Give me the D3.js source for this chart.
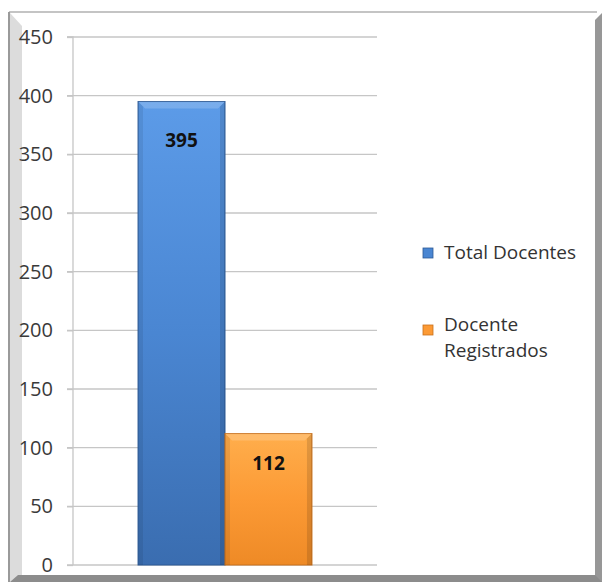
<!DOCTYPE html>
<html><head><meta charset="utf-8">
<script src="https://cdn.jsdelivr.net/npm/d3@7"></script>
<style>body{margin:0;background:#fff}svg{display:block}</style>
</head><body>
<script>
const categories = ["Total Docentes", "Docente Registrados"];
const values = [395, 112];
const yTicks = [0, 50, 100, 150, 200, 250, 300, 350, 400, 450];
const colorsMid = ["#4a86d2", "#fc9a35"];
const colorsTop = ["#5c9be8", "#ffae4c"];
const colorsBot = ["#3a6db0", "#ee8a26"];
const colorsEdge = ["#2d5a96", "#c9711c"];

const W = 602, H = 582;
const svg = d3.select("body").append("svg").attr("width", W).attr("height", H);
const defs = svg.append("defs");
categories.forEach((c, i) => {
  const g = defs.append("linearGradient").attr("id", "g" + i).attr("x1", 0).attr("y1", 0).attr("x2", 0).attr("y2", 1);
  g.append("stop").attr("offset", "0%").attr("stop-color", colorsTop[i]);
  g.append("stop").attr("offset", "50%").attr("stop-color", colorsMid[i]);
  g.append("stop").attr("offset", "100%").attr("stop-color", colorsBot[i]);
});

// frame
svg.append("rect").attr("x", 9).attr("y", 11).attr("width", 588).attr("height", 2).attr("fill", "#c4c4c4");
svg.append("rect").attr("x", 8).attr("y", 12).attr("width", 2).attr("height", 570).attr("fill", "#9a9a9a");
svg.append("path").attr("d", "M10,13 L22,26 L22,575 L10,582 Z").attr("fill", "#dcdcdc");
svg.append("path").attr("d", "M595,20 L602,13 L602,582 L595,582 Z").attr("fill", "#979797");
svg.append("path").attr("d", "M18,575 L595,575 L602,582 L10,582 Z").attr("fill", "#8c8c8c");

const x0 = 73, x1 = 377, yTop = 37, yBot = 565;
const y = d3.scaleLinear().domain([0, 450]).range([yBot, yTop]);
const xb = d3.scaleBand().domain(["g"]).range([x0, x1]).paddingInner(0).paddingOuter(0.374);
const xi = d3.scaleBand().domain(categories).range([xb("g"), xb("g") + xb.bandwidth()]);

// gridlines
svg.append("g").selectAll("line").data(yTicks).join("line")
  .attr("x1", 67).attr("x2", x1).attr("y1", d => y(d)).attr("y2", d => y(d))
  .attr("stroke", "#c6c6c6").attr("stroke-width", 1.3);

// y axis
const ax = svg.append("g").attr("transform", `translate(${x0},0)`)
  .call(d3.axisLeft(y).tickValues(yTicks).tickSize(6).tickPadding(14));
ax.select(".domain").attr("stroke", "#c6c6c6").attr("stroke-width", 1.3).attr("d", `M-6,${yTop}H0V${yBot}`);
ax.selectAll(".tick line").attr("stroke", "#c6c6c6").attr("stroke-width", 1.3);
ax.selectAll("text").attr("font-family", "Open Sans, Liberation Sans, sans-serif").attr("font-size", 20).attr("fill", "#3a3a3a");

// bars
const labelOffset = [45, 36];
const bars = svg.append("g").selectAll("g").data(categories).join("g");
bars.append("rect")
  .attr("x", d => xi(d)).attr("width", xi.bandwidth())
  .attr("y", (d, i) => y(values[i])).attr("height", (d, i) => yBot - y(values[i]))
  .attr("fill", (d, i) => `url(#g${i})`)
  .attr("stroke", (d, i) => colorsEdge[i]).attr("stroke-width", 1);
bars.append("path")
  .attr("d", (d, i) => {
    const xa = xi(d), xw = xi.bandwidth(), ya = y(values[i]), b = 7;
    return `M${xa},${ya} L${xa + xw},${ya} L${xa + xw - b},${ya + b} L${xa + b},${ya + b} Z`;
  })
  .attr("fill", "#fff").attr("opacity", 0.18);
bars.append("path")
  .attr("d", (d, i) => {
    const xa = xi(d), xw = xi.bandwidth(), ya = y(values[i]), b = 5;
    return `M${xa + xw},${ya} L${xa + xw},${yBot} L${xa + xw - b},${yBot} L${xa + xw - b},${ya + b} Z`;
  })
  .attr("fill", "#000").attr("opacity", 0.12);
bars.append("path")
  .attr("d", (d, i) => {
    const xa = xi(d), ya = y(values[i]), b = 5;
    return `M${xa},${ya} L${xa + b},${ya + b} L${xa + b},${yBot} L${xa},${yBot} Z`;
  })
  .attr("fill", "#000").attr("opacity", 0.08);
bars.append("text")
  .attr("x", d => xi(d) + xi.bandwidth() / 2)
  .attr("y", (d, i) => y(values[i]) + labelOffset[i])
  .attr("text-anchor", "middle")
  .attr("font-family", "Open Sans, Liberation Sans, sans-serif").attr("font-weight", "bold").attr("font-size", 19)
  .attr("fill", "#111").text((d, i) => values[i]);

// legend
const legendLines = [["Total Docentes"], ["Docente", "Registrados"]];
const legY = [252, 324];
const lg = svg.append("g").selectAll("g").data(categories).join("g")
  .attr("transform", (d, i) => `translate(423,${legY[i]})`);
lg.append("rect").attr("x", 0).attr("y", (d, i) => i === 0 ? -4 : 1).attr("width", 10).attr("height", 10)
  .attr("fill", (d, i) => colorsMid[i]).attr("stroke", (d, i) => colorsEdge[i]).attr("stroke-width", 0.8);
lg.each(function (d, i) {
  d3.select(this).selectAll("text").data(legendLines[i]).join("text")
    .attr("font-family", "Open Sans, Liberation Sans, sans-serif").attr("font-size", 19).attr("fill", "#333")
    .attr("x", 21).attr("y", (t, j) => 7 + j * 26).text(t => t);
});
</script>
</body></html>
